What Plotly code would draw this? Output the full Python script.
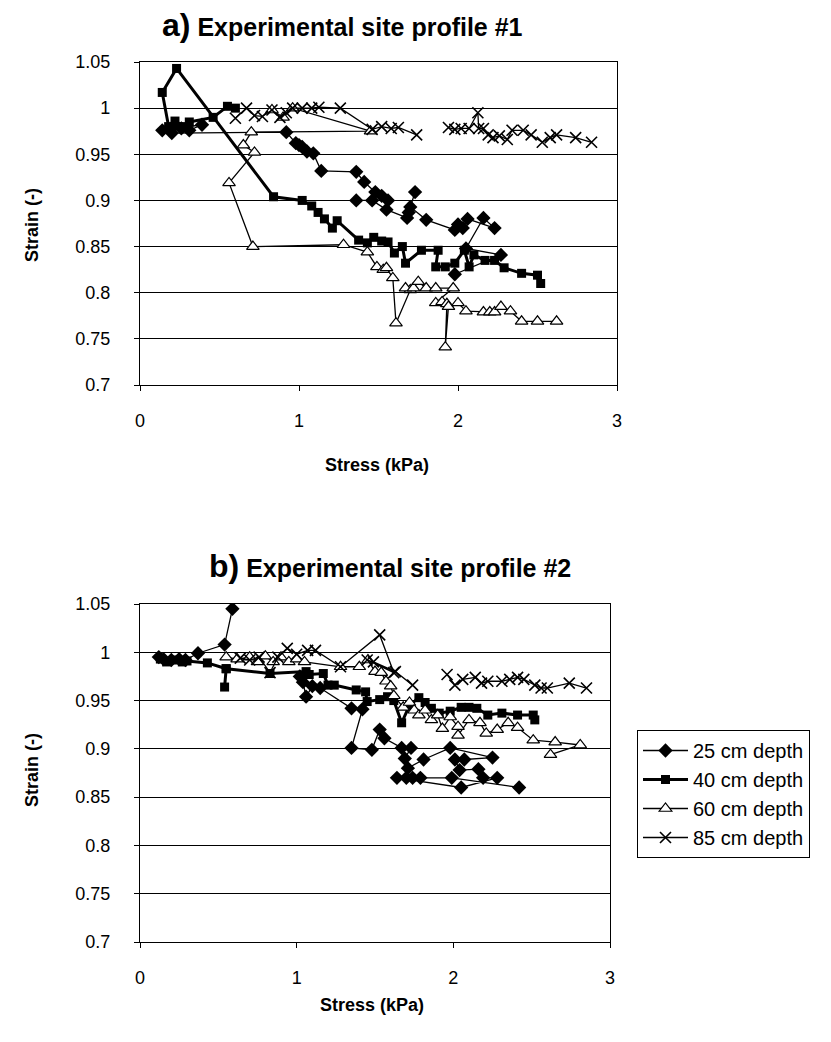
import plotly.graph_objects as go

# ---------------- data ----------------
# a) Experimental site profile #1
a25_x = [0.22,0.26,0.31,0.39,0.14,0.20,0.92,0.98,1.00,1.02,1.05,1.09,1.14,1.36,1.41,1.48,1.52,1.56,1.36,1.46,1.55,1.68,1.69,1.73,1.70,1.80,1.98,2.00,2.03,2.06,2.23,2.16,2.05,2.27,1.98]
a25_y = [0.982,0.978,0.976,0.982,0.976,0.973,0.974,0.962,0.960,0.958,0.953,0.951,0.932,0.931,0.920,0.909,0.905,0.900,0.900,0.900,0.890,0.881,0.887,0.909,0.893,0.879,0.868,0.874,0.870,0.880,0.870,0.881,0.848,0.841,0.820]

a40_x = [0.60,0.55,0.46,0.31,0.26,0.22,0.18,0.14,0.23,0.84,1.02,1.08,1.12,1.16,1.21,1.24,1.375,1.43,1.47,1.52,1.56,1.60,1.65,1.67,1.77,1.875,1.86,1.92,1.98,2.04,2.07,2.10,2.17,2.23,2.29,2.40,2.50,2.52]
a40_y = [1.000,1.002,0.990,0.985,0.980,0.986,0.980,1.017,1.043,0.904,0.900,0.894,0.887,0.880,0.870,0.878,0.857,0.854,0.860,0.856,0.855,0.843,0.850,0.832,0.846,0.846,0.828,0.828,0.832,0.846,0.828,0.841,0.835,0.835,0.827,0.821,0.819,0.810]

a60_x = [0.83,0.90,0.96,1.45,0.70,0.65,0.72,0.56,0.71,1.28,1.43,1.49,1.53,1.55,1.59,1.61,1.70,1.67,1.72,1.75,1.80,1.86,1.97,1.86,1.90,1.93,1.92,1.94,2.00,2.05,2.16,2.20,2.23,2.27,2.33,2.40,2.50,2.62]
a60_y = [0.998,0.990,1.000,0.975,0.974,0.960,0.952,0.919,0.850,0.852,0.844,0.828,0.825,0.827,0.816,0.767,0.803,0.805,0.805,0.812,0.805,0.805,0.805,0.789,0.790,0.788,0.741,0.785,0.789,0.780,0.779,0.779,0.779,0.785,0.780,0.769,0.769,0.769]

a85_x = [0.60,0.67,0.72,0.77,0.83,0.88,0.92,0.96,1.02,1.08,1.125,1.26,1.46,1.52,1.58,1.625,1.74,None,1.94,1.98,2.02,2.07,2.125,2.13,2.16,2.19,2.22,2.26,2.31,2.34,2.41,2.46,2.53,2.58,2.62,2.74,2.84]
a85_y = [0.989,1.000,0.992,0.991,0.998,0.990,0.995,1.000,1.000,1.000,1.001,1.000,0.977,0.980,0.978,0.979,0.971,None,0.979,0.977,0.978,0.978,0.995,0.978,0.978,0.971,0.968,0.970,0.966,0.976,0.976,0.971,0.963,0.968,0.971,0.968,0.963]

# b) Experimental site profile #2
b25_x = [0.12,0.15,0.20,0.25,0.29,0.37,0.54,0.59,None,1.02,1.04,1.06,1.10,1.15,1.35,1.42,1.35,1.48,1.53,1.56,1.67,1.73,1.69,1.71,1.81,1.98,2.25,2.07,2.01,2.04,2.16,2.19,2.28,2.05,1.64,1.70,1.74,1.79,1.99,2.42]
b25_y = [0.995,0.993,0.992,0.993,0.992,0.999,1.008,1.045,None,0.975,0.969,0.954,0.965,0.963,0.942,0.941,0.901,0.899,0.920,0.911,0.901,0.901,0.890,0.880,0.889,0.901,0.891,0.889,0.889,0.878,0.879,0.870,0.870,0.860,0.870,0.870,0.870,0.870,0.870,0.860]

b40_x = [0.13,0.17,0.22,0.27,0.30,0.43,0.55,0.54,0.55,0.83,1.06,1.08,1.17,1.20,1.24,1.38,1.44,1.45,1.53,1.58,1.62,1.67,1.72,1.78,1.82,1.86,1.91,1.98,2.05,2.10,2.15,2.22,2.31,2.41,2.51,2.52]
b40_y = [0.993,0.990,0.992,0.990,0.991,0.989,0.983,0.964,0.983,0.978,0.980,0.977,0.978,0.966,0.966,0.961,0.959,0.949,0.951,0.954,0.950,0.927,0.945,0.953,0.948,0.942,0.937,0.939,0.943,0.943,0.942,0.935,0.937,0.935,0.935,0.930]

b60_x = [0.55,0.62,0.70,0.75,0.80,0.85,0.90,0.95,1.00,1.05,1.28,1.40,1.455,1.50,1.54,1.57,1.60,1.62,1.68,1.72,1.75,1.78,1.82,1.86,1.90,1.93,1.98,2.03,2.03,2.10,2.17,2.21,2.28,2.35,2.41,2.51,2.65,2.81,2.62]
b60_y = [0.995,0.993,0.995,0.990,0.996,0.990,0.995,0.990,0.993,0.990,0.985,0.985,0.992,0.980,0.979,0.970,0.965,0.955,0.943,0.948,0.940,0.935,0.940,0.930,0.935,0.921,0.933,0.923,0.914,0.930,0.927,0.916,0.920,0.927,0.922,0.909,0.907,0.904,0.894]

b85_x = [0.64,0.70,0.76,0.83,0.88,0.94,1.00,1.07,1.12,1.28,1.53,1.62,1.45,1.49,1.63,1.74,None,1.96,2.01,2.06,2.14,2.18,2.22,2.31,2.36,2.41,2.45,2.52,2.56,2.60,2.74,2.85]
b85_y = [0.994,0.992,0.995,0.979,0.995,1.004,0.998,1.002,1.002,0.985,1.018,0.979,0.992,0.990,0.980,0.966,None,0.977,0.966,0.972,0.974,0.968,0.970,0.970,0.972,0.974,0.972,0.966,0.963,0.963,0.968,0.963]

series_names = ["25 cm depth", "40 cm depth", "60 cm depth", "85 cm depth"]
x_ticks = [0, 1, 2, 3]
y_ticks = [0.7, 0.75, 0.8, 0.85, 0.9, 0.95, 1.0, 1.05]
y_ticklabels = ["0.7", "0.75", "0.8", "0.85", "0.9", "0.95", "1", "1.05"]

# ---------------- styling ----------------
FONT = "Liberation Sans, Arial, Helvetica, sans-serif"
OFF = 8                      # default page body margin
W, H = 831 - OFF, 1042 - OFF

styles = [
    dict(line=dict(color="black", width=1.3),
         marker=dict(symbol="diamond", size=11, color="black")),
    dict(line=dict(color="black", width=3),
         marker=dict(symbol="square", size=9, color="black")),
    dict(line=dict(color="black", width=1.3),
         marker=dict(symbol="triangle-up", size=11, color="white",
                     line=dict(color="black", width=1.2))),
    dict(line=dict(color="black", width=1.3),
         marker=dict(symbol="x-thin", size=11, color="black",
                     line=dict(color="black", width=1.6))),
]

fig = go.Figure()

top = [(a25_x, a25_y), (a40_x, a40_y), (a60_x, a60_y), (a85_x, a85_y)]
bot = [(b25_x, b25_y), (b40_x, b40_y), (b60_x, b60_y), (b85_x, b85_y)]

for i, (xs, ys) in enumerate(top):
    fig.add_trace(go.Scatter(x=xs, y=ys, mode="lines+markers", name=series_names[i],
                             showlegend=False, xaxis="x", yaxis="y",
                             connectgaps=False, **styles[i]))
for i, (xs, ys) in enumerate(bot):
    fig.add_trace(go.Scatter(x=xs, y=ys, mode="lines+markers", name=series_names[i],
                             showlegend=True, xaxis="x2", yaxis="y2",
                             connectgaps=False, **styles[i]))

def px_x(p):
    return (p - OFF) / W

def px_y(p):
    return 1 - (p - OFF) / H

axis_common = dict(
    showline=True, linecolor="black", linewidth=1.2, mirror=True,
    ticks="outside", ticklen=5, tickcolor="black", zeroline=False,
    automargin=False,
    tickfont=dict(family=FONT, size=18, color="black"),
)

fig.update_layout(
    width=W, height=H,
    margin=dict(l=0, r=0, t=0, b=0, pad=0),
    paper_bgcolor="white", plot_bgcolor="white",
    font=dict(family=FONT, color="black"),
    xaxis=dict(domain=[px_x(140), px_x(617)], anchor="y", range=[0, 3],
               tickvals=x_ticks, showgrid=False, ticklabelstandoff=14, **axis_common),
    yaxis=dict(domain=[px_y(385), px_y(62)], anchor="x", range=[0.7, 1.05],
               tickvals=y_ticks, ticktext=y_ticklabels, showgrid=True,
               gridcolor="black", gridwidth=1, ticklabelstandoff=20, **axis_common),
    xaxis2=dict(domain=[px_x(140), px_x(610)], anchor="y2", range=[0, 3],
                tickvals=x_ticks, showgrid=False, ticklabelstandoff=14, **axis_common),
    yaxis2=dict(domain=[px_y(942), px_y(604)], anchor="x2", range=[0.7, 1.05],
                tickvals=y_ticks, ticktext=y_ticklabels, showgrid=True,
                gridcolor="black", gridwidth=1, ticklabelstandoff=20, **axis_common),
    legend=dict(x=px_x(637), y=px_y(730), xanchor="left", yanchor="top",
                bordercolor="black", borderwidth=1, bgcolor="white",
                font=dict(family=FONT, size=20, color="black"),
                itemwidth=45, tracegroupgap=0),
    showlegend=True,
)

title_font = dict(family=FONT, size=25, color="black")
axis_title_font = dict(family=FONT, size=18, color="black")

annotations = [
    dict(text="<b><span style='font-size:32px'>a)</span> Experimental site profile #1</b>",
         x=px_x(342), y=px_y(25), xref="paper", yref="paper", showarrow=False,
         xanchor="center", yanchor="middle", font=title_font),
    dict(text="<b><span style='font-size:32px'>b)</span> Experimental site profile #2</b>",
         x=px_x(390), y=px_y(566), xref="paper", yref="paper", showarrow=False,
         xanchor="center", yanchor="middle", font=title_font),
    dict(text="<b>Strain (-)</b>", x=px_x(32), y=px_y(225), xref="paper", yref="paper",
         showarrow=False, textangle=-90, xanchor="center", yanchor="middle", font=axis_title_font),
    dict(text="<b>Strain (-)</b>", x=px_x(32), y=px_y(770), xref="paper", yref="paper",
         showarrow=False, textangle=-90, xanchor="center", yanchor="middle", font=axis_title_font),
    dict(text="<b>Stress (kPa)</b>", x=px_x(377), y=px_y(465), xref="paper", yref="paper",
         showarrow=False, xanchor="center", yanchor="middle", font=axis_title_font),
    dict(text="<b>Stress (kPa)</b>", x=px_x(372), y=px_y(1005), xref="paper", yref="paper",
         showarrow=False, xanchor="center", yanchor="middle", font=axis_title_font),
]
fig.update_layout(annotations=annotations)

fig.write_html("out.html")
